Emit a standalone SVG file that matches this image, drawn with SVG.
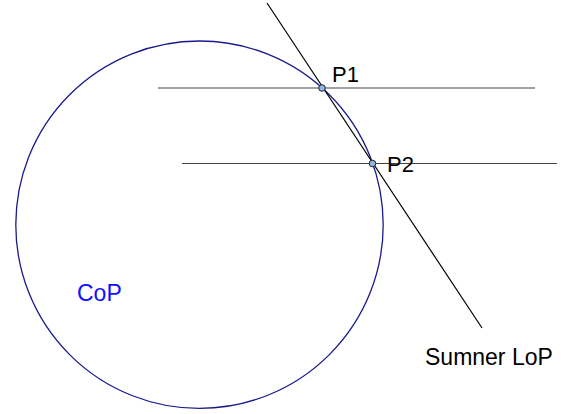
<svg xmlns="http://www.w3.org/2000/svg" width="566" height="414" viewBox="0 0 566 414">
<style>
.lbl{font-family:"Liberation Sans",Arial,sans-serif;font-size:23px;fill:#000}
.pl{font-size:22px}
.hl{stroke:#444;stroke-width:1;fill:none}
.pt{fill:#8cb8e0;stroke:#223;stroke-width:1}
</style>
<rect width="566" height="414" fill="#fff"/>
<g id="cop">
<circle cx="199.5" cy="224.7" r="183.7" fill="none" stroke="#1a1a8c" stroke-width="1.3"/>
<text class="lbl" x="77" y="301" style="fill:#1010ff">CoP</text>
</g>
<g id="connectors">
<line class="hl" x1="158" y1="88" x2="535" y2="88"/>
<line class="hl" x1="182" y1="163.5" x2="557" y2="163.5"/>
<line x1="267" y1="3" x2="482" y2="328" stroke="#000" stroke-width="1.2"/>
</g>
<g id="p1">
<circle class="pt" cx="322" cy="88" r="3.3"/>
<text class="lbl pl" x="332" y="82">P1</text>
</g>
<g id="p2">
<circle class="pt" cx="372.5" cy="163.5" r="3.3"/>
<text class="lbl pl" x="387" y="172">P2</text>
</g>
<g id="sumner">
<text class="lbl" x="425" y="365">Sumner LoP</text>
</g>
</svg>
